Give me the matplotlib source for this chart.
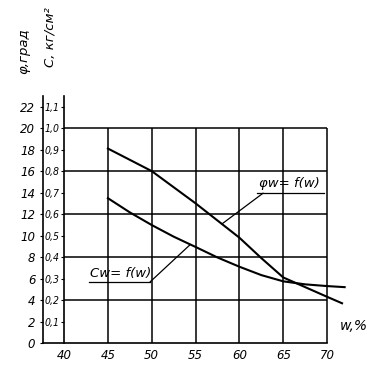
import numpy as np
import matplotlib
matplotlib.use('Agg')
import matplotlib.pyplot as plt

plt.rcParams['font.family'] = ['DejaVu Sans']
plt.rcParams['font.style'] = 'italic'

# Data
w = [45, 50, 55, 60, 62.5, 65, 67.5, 70, 71.7]
phi = [18.1, 16.0, 13.0, 9.8, 7.9, 6.1, 5.2, 4.3, 3.7]          # град
w_c = [45, 47.5, 50, 52.5, 55, 57.5, 60, 62.5, 65, 67.5, 70, 72]
c = [0.674, 0.608, 0.549, 0.495, 0.447, 0.398, 0.355, 0.316, 0.287, 0.273, 0.265, 0.26]  # кг/см2

x_ticks = [40, 45, 50, 55, 60, 65, 70]
c_ticks = [0.1, 0.2, 0.3, 0.4, 0.5, 0.6, 0.7, 0.8, 0.9, 1.0, 1.1]
c_labels = ['0,1', '0,2', '0,3', '0,4', '0,5', '0,6', '0,7', '0,8', '0,9', '1,0', '1,1']
phi_ticks = [0, 2, 4, 6, 8, 10, 12, 14, 16, 18, 20, 22]
c_grid = [0.2, 0.4, 0.6, 0.8, 1.0]

fig = plt.figure(figsize=(3.79, 3.66), dpi=100)
ax = fig.add_axes([0.1135, 0.0628, 0.863, 0.691])
ax.set_xlim(37.6, 74.9)
ax.set_ylim(0, 1.177)

# grid only inside the 40..70 / 0..1.0 field
ax.vlines(x_ticks[1:], 0, 1.0, color='black', lw=1.1)
ax.hlines(c_grid, 40, 70, color='black', lw=1.1)

# C axis
for s in ['top', 'right']:
    ax.spines[s].set_visible(False)
ax.spines['left'].set_position(('data', 40))
ax.spines['left'].set_bounds(0, 1.15)
ax.spines['bottom'].set_bounds(37.6, 70)
ax.spines['left'].set_linewidth(1.2)
ax.spines['bottom'].set_linewidth(1.2)
ax.set_yticks(c_ticks, c_labels)
ax.tick_params(axis='y', direction='out', length=2, width=0.8, pad=1, labelsize=7.5)
for lab in ax.get_yticklabels():
    lab.set_fontstretch('condensed')
ax.set_xticks(x_ticks)
ax.tick_params(axis='x', length=0, pad=4, labelsize=8.5)

# phi axis, further left
ax2 = ax.twinx()
ax2.set_ylim(0, 1.177 * 20)
for s in ['top', 'right', 'bottom']:
    ax2.spines[s].set_visible(False)
ax2.spines['left'].set_visible(True)
ax2.spines['left'].set_bounds(0, 23)
ax2.spines['left'].set_linewidth(1.2)
ax2.yaxis.tick_left()
ax2.set_yticks(phi_ticks)
ax2.tick_params(axis='y', direction='out', length=2, width=0.8, pad=3.5, labelsize=8.5)

# curves
ax.plot(w_c, c, color='black', lw=1.5)
ax2.plot(w, phi, color='black', lw=1.5)

# curve labels with leaders and underlines
p_w = 58.0
ax2.annotate('', xy=(p_w, np.interp(p_w, w, phi)), xytext=(62.7, 13.95),
             arrowprops=dict(arrowstyle='-', lw=0.9, shrinkA=0, shrinkB=0))
ax2.text(62.2, 14.2, 'φw= f(w)', fontsize=9.5, ha='left', va='bottom')
ax2.plot([62.0, 69.6], [13.95, 13.95], color='black', lw=0.9)

c_w = 54.4
ax.annotate('', xy=(c_w, np.interp(c_w, w_c, c)), xytext=(49.8, 0.284),
            arrowprops=dict(arrowstyle='-', lw=0.9, shrinkA=0, shrinkB=0))
ax.text(43.0, 0.295, 'Cw= f(w)', fontsize=9.5, ha='left', va='bottom')
ax.plot([42.8, 49.8], [0.284, 0.284], color='black', lw=0.9)

ax.text(71.5, 0.045, 'w,%', fontsize=10, ha='left', va='bottom')

# axis titles, rotated
fig.text(0.063, 0.86, 'φ,град', rotation=90, ha='center', va='center', fontsize=9.5)
fig.text(0.132, 0.90, 'C, кг/см²', rotation=90, ha='center', va='center', fontsize=9.5)

fig.savefig('out.png', dpi=100)
